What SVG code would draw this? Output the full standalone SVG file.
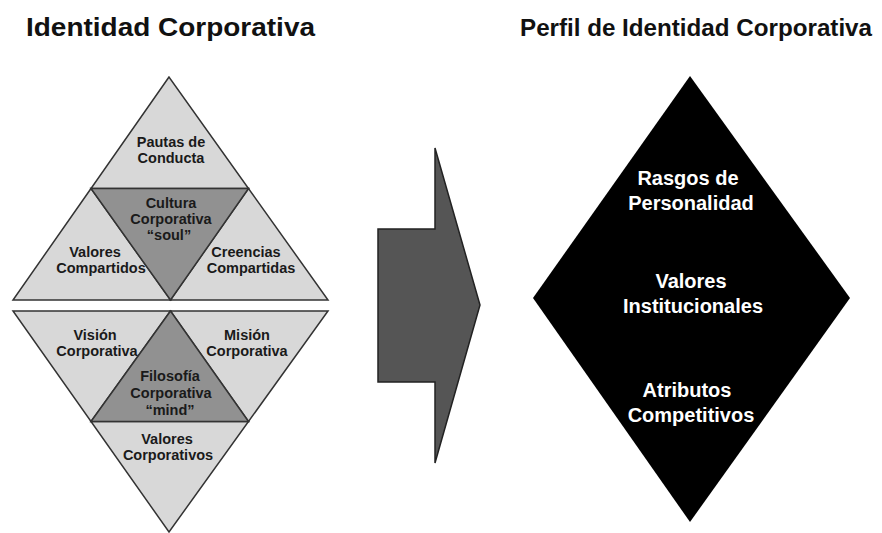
<svg xmlns="http://www.w3.org/2000/svg" width="882" height="533" viewBox="0 0 882 533">
<style>
.title{font-family:"Liberation Sans",Arial,sans-serif;font-weight:bold;font-size:26px;fill:#111;}
.t{font-family:"Liberation Sans",Arial,sans-serif;font-weight:bold;font-size:14.5px;fill:#1a1a1a;text-anchor:middle;}
.w{font-family:"Liberation Sans",Arial,sans-serif;font-weight:bold;font-size:20px;fill:#fff;text-anchor:middle;}
.lt{fill:#d8d8d8;stroke:#333;stroke-width:1.5;stroke-linejoin:miter;}
.dk{fill:#919191;stroke:#333;stroke-width:1.5;}
</style>
<rect width="882" height="533" fill="#fff"/>
<text class="title" x="26" y="36" textLength="289" lengthAdjust="spacingAndGlyphs">Identidad Corporativa</text>
<text class="title" x="520" y="36" style="font-size:24px" textLength="352" lengthAdjust="spacingAndGlyphs">Perfil de Identidad Corporativa</text>

<g id="pautas-conducta">
<polygon class="lt" points="169,77 91,188.5 248.5,188.5"/>
</g>
<g id="valores-compartidos">
<polygon class="lt" points="91,188.5 13,300 170.5,300"/>
</g>
<g id="creencias-compartidas">
<polygon class="lt" points="248.5,188.5 170.5,300 328,300"/>
</g>
<g id="cultura-corporativa">
<polygon class="dk" points="91,188.5 248.5,188.5 170.5,300"/>
</g>
<g id="vision-corporativa">
<polygon class="lt" points="13,311 170.5,311 91,421.5"/>
</g>
<g id="mision-corporativa">
<polygon class="lt" points="170.5,311 328,311 248.5,421.5"/>
</g>
<g id="valores-corporativos">
<polygon class="lt" points="91,421.5 248.5,421.5 169,532"/>
</g>
<g id="filosofia-corporativa">
<polygon class="dk" points="170.5,311 91,421.5 248.5,421.5"/>
</g>

<g id="labels-left">
<text class="t" x="171" y="147">Pautas de</text>
<text class="t" x="171" y="163">Conducta</text>
<text class="t" x="171" y="208">Cultura</text>
<text class="t" x="171" y="224">Corporativa</text>
<text class="t" x="169" y="240">“soul”</text>
<text class="t" x="95" y="257">Valores</text>
<text class="t" x="101" y="273">Compartidos</text>
<text class="t" x="246" y="257">Creencias</text>
<text class="t" x="251" y="273">Compartidas</text>
<text class="t" x="95" y="340">Visión</text>
<text class="t" x="97" y="356">Corporativa</text>
<text class="t" x="247" y="340">Misión</text>
<text class="t" x="247" y="356">Corporativa</text>
<text class="t" x="170" y="381">Filosofía</text>
<text class="t" x="171" y="398">Corporativa</text>
<text class="t" x="170" y="415">“mind”</text>
<text class="t" x="167" y="444">Valores</text>
<text class="t" x="168" y="460">Corporativos</text>
</g>

<g id="connectors">
<polygon points="378,229 435,229 435,148 480,305 435,463 435,382 378,382" fill="#555" stroke="#222" stroke-width="1.5"/>
</g>

<g id="perfil-identidad">
<polygon points="690,76 850,298 690,522 533,298" fill="#000"/>
<text class="w" x="688" y="185">Rasgos de</text>
<text class="w" x="691" y="210">Personalidad</text>
<text class="w" x="691" y="288">Valores</text>
<text class="w" x="693" y="313">Institucionales</text>
<text class="w" x="687" y="397">Atributos</text>
<text class="w" x="691" y="422">Competitivos</text>
</g>
</svg>
